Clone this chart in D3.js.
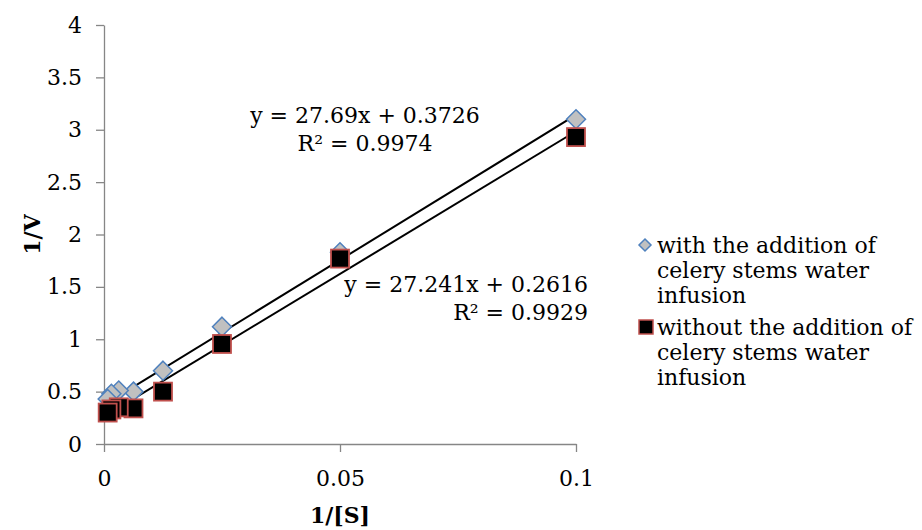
<!DOCTYPE html>
<html>
<head>
<meta charset="utf-8">
<script src="https://cdn.jsdelivr.net/npm/d3@7"></script>
<style>
  body { margin: 0; background: #fff; }
  text { font-family: "DejaVu Serif", serif; fill: #000; }
</style>
</head>
<body>
<div class="chart"></div>
<script>
// reciprocal substrate concentration (1/[S])
var invS = [0.1, 0.05, 0.025, 0.0125, 0.00625, 0.003125, 0.0015625, 0.00078];
// 1/V with celery stems water infusion
var withInfusion = [3.10, 1.83, 1.12, 0.70, 0.50, 0.51, 0.48, 0.43];
// 1/V without celery stems water infusion
var withoutInfusion = [2.93, 1.77, 0.955, 0.50, 0.34, 0.35, 0.33, 0.30];
var yTicks = [0, 0.5, 1, 1.5, 2, 2.5, 3, 3.5, 4];
var xTicks = [0, 0.05, 0.1];
var fitWith = {slope: 27.69, icpt: 0.3726, r2: '0.9974'};
var fitWithout = {slope: 27.241, icpt: 0.2616, r2: '0.9929'};
var legendLabels = [
  ['with the addition of', 'celery stems water', 'infusion'],
  ['without the addition of', 'celery stems water', 'infusion']
];

var width = 922, height = 530;
var axisgray = '#868686';
var diamondFill = '#c0c0c0', diamondStroke = '#4f81bd';
var squareFill = '#000000', squareStroke = '#c0504d';
var fs = 22;

var svg = d3.select('.chart').append('svg')
  .attr('width', width).attr('height', height);

var xscale = d3.scaleLinear().domain([0, 0.1]).range([104, 576]);
var yscale = d3.scaleLinear().domain([0, 4]).range([444, 25]);

// y axis
var yaxis = svg.append('g')
  .attr('transform', 'translate(' + xscale(0) + ',0)')
  .call(d3.axisLeft(yscale).tickValues(yTicks).tickSize(8).tickSizeOuter(0)
    .tickPadding(14).tickFormat(d3.format('~g')));
yaxis.select('.domain').attr('stroke', axisgray).attr('stroke-width', 1.3);
yaxis.selectAll('line').attr('stroke', axisgray).attr('stroke-width', 1.3);
yaxis.selectAll('text').style('font-size', fs + 'px').attr('fill', '#000');

// x axis
var xaxis = svg.append('g')
  .attr('transform', 'translate(0,' + yscale(0) + ')')
  .call(d3.axisBottom(xscale).tickValues(xTicks).tickSize(8).tickSizeOuter(0)
    .tickPadding(18).tickFormat(d3.format('~g')));
xaxis.select('.domain').attr('stroke', axisgray).attr('stroke-width', 1.3);
xaxis.selectAll('line').attr('stroke', axisgray).attr('stroke-width', 1.3);
xaxis.selectAll('text').style('font-size', fs + 'px').attr('fill', '#000');

// axis titles
svg.append('text')
  .attr('transform', 'translate(40,' + ((yscale(0) + yscale(4)) / 2) + ') rotate(-90)')
  .attr('text-anchor', 'middle')
  .style('font-size', fs + 'px').style('font-weight', 'bold')
  .text('1/V');

svg.append('text')
  .attr('x', (xscale(0) + xscale(0.1)) / 2).attr('y', 523)
  .attr('text-anchor', 'middle')
  .style('font-size', fs + 'px').style('font-weight', 'bold')
  .text('1/[S]');

// trend lines across the data range
var xmin = d3.min(invS), xmax = d3.max(invS);
[fitWith, fitWithout].forEach(function(f){
  svg.append('line')
    .attr('x1', xscale(xmin)).attr('y1', yscale(f.slope * xmin + f.icpt))
    .attr('x2', xscale(xmax)).attr('y2', yscale(f.slope * xmax + f.icpt))
    .attr('stroke', '#000').attr('stroke-width', 2);
});

var diamond = function(s){ return 'M0,' + (-s) + 'L' + s + ',0L0,' + s + 'L' + (-s) + ',0Z'; };

// with: diamonds, underneath the squares
svg.append('g').selectAll('path')
  .data(invS).enter()
  .append('path')
  .attr('d', diamond(9.5))
  .attr('transform', function(d, i){ return 'translate(' + xscale(d) + ',' + yscale(withInfusion[i]) + ')'; })
  .attr('fill', diamondFill).attr('stroke', diamondStroke).attr('stroke-width', 1.5);

// without: squares
svg.append('g').selectAll('rect')
  .data(invS).enter()
  .append('rect')
  .attr('x', function(d){ return xscale(d) - 9; })
  .attr('y', function(d, i){ return yscale(withoutInfusion[i]) - 9; })
  .attr('width', 18).attr('height', 18)
  .attr('fill', squareFill).attr('stroke', squareStroke).attr('stroke-width', 1.8);

// equation labels
var eq1 = svg.append('text').attr('text-anchor', 'middle').style('font-size', fs + 'px');
eq1.append('tspan').attr('x', 365).attr('y', 123).text('y = 27.69x + 0.3726');
eq1.append('tspan').attr('x', 365).attr('y', 151).text('R² = ' + fitWith.r2);

var eq2 = svg.append('text').attr('text-anchor', 'end').style('font-size', fs + 'px');
eq2.append('tspan').attr('x', 588).attr('y', 292).text('y = 27.241x + 0.2616');
eq2.append('tspan').attr('x', 588).attr('y', 320).text('R² = ' + fitWithout.r2);

// legend
var lg = svg.append('g');
var legendTop = [245, 327];
legendLabels.forEach(function(lines, k){
  if (k === 0) {
    lg.append('path').attr('d', diamond(6))
      .attr('transform', 'translate(645,' + legendTop[k] + ')')
      .attr('fill', diamondFill).attr('stroke', diamondStroke).attr('stroke-width', 1.5);
  } else {
    lg.append('rect').attr('x', 639).attr('y', legendTop[k] - 7).attr('width', 14).attr('height', 14)
      .attr('fill', squareFill).attr('stroke', squareStroke).attr('stroke-width', 1.5);
  }
  lines.forEach(function(t, j){
    lg.append('text').attr('x', 657).attr('y', legendTop[k] + 8 + j * 25)
      .style('font-size', fs + 'px').text(t);
  });
});
</script>
</body>
</html>
